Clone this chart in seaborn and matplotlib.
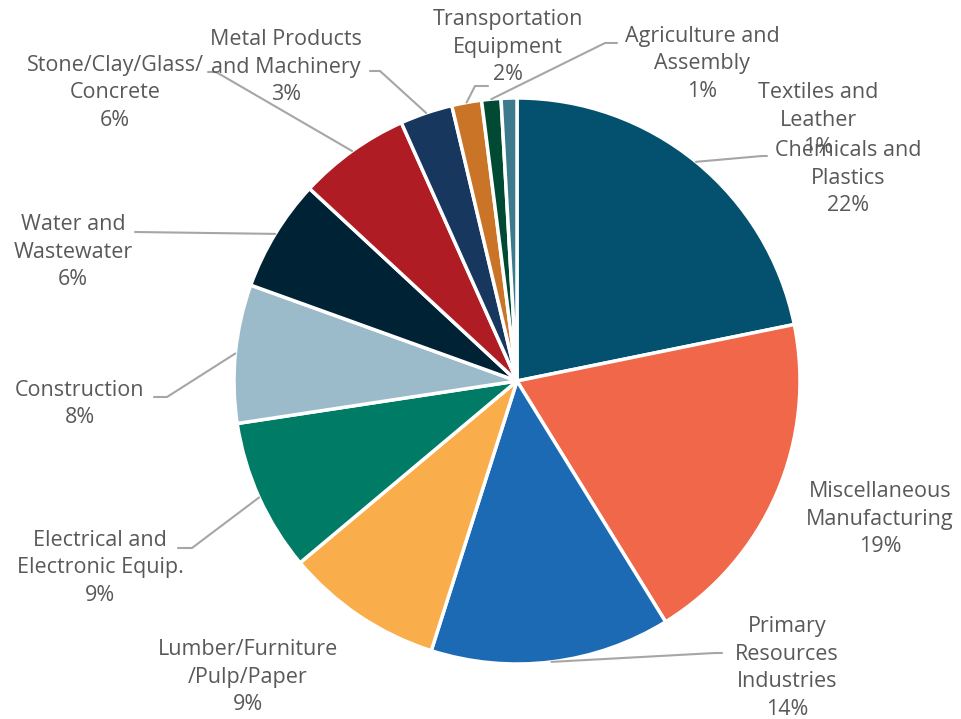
import matplotlib
matplotlib.use("Agg")
import matplotlib.pyplot as plt
import seaborn as sns
import numpy as np

sns.set_theme(style="white")
plt.rcParams['font.family'] = ['Open Sans', 'DejaVu Sans']

categories = ["Chemicals and\nPlastics", "Miscellaneous\nManufacturing",
              "Primary\nResources\nIndustries", "Lumber/Furniture\n/Pulp/Paper",
              "Electrical and\nElectronic Equip.", "Construction",
              "Water and\nWastewater", "Stone/Clay/Glass/\nConcrete",
              "Metal Products\nand Machinery", "Transportation\nEquipment",
              "Agriculture and\nAssembly", "Textiles and\nLeather"]
values = [21.8, 19.4, 13.7, 9.0, 8.7, 7.9, 6.4, 6.4, 3.0, 1.7, 1.1, 0.9]
colors = ["#03506F", "#F0674A", "#1D6AB4", "#F9AE4B", "#007B65", "#9BBBCA",
          "#002235", "#AF1C23", "#17375E", "#C97426", "#004A33", "#3E7A8E"]

W, H = 961, 719
# layout (pixel coords, origin top-left)
cx, cy, R = 517, 381, 283
label_pos = [(848, 178), (880, 519), (787, 668), (248, 677), (100, 568), (80, 404),
             (73, 252), (115, 93), (286, 67), (508, 47), (702, 64), (818, 120)]
leaders = [[(762, 156), (767, 156)], None, [(715, 653), (722, 653)], None,
           [(192, 548), (178, 548)], [(167, 397), (154, 397)],
           [(135, 232)], [(216, 72), (208, 72)], [(380, 71), (370, 71)],
           [(475, 86), (488, 86)], [(605, 43), (617, 43)], None]

fig = plt.figure(figsize=(W / 100, H / 100), dpi=100)
ax = fig.add_axes([0, 0, 1, 1])
wedges, _ = ax.pie(values, colors=colors, startangle=90, counterclock=False,
                   center=(cx, H - cy), radius=R,
                   wedgeprops=dict(edgecolor="white", linewidth=2.5))
ax.set_xlim(0, W)
ax.set_ylim(0, H)
ax.set_aspect("equal")
ax.axis("off")

total = sum(values)
for w, cat, v, (lx, ly), ld in zip(wedges, categories, values, label_pos, leaders):
    pct = round(v / total * 100)
    ax.text(lx, H - ly, f"{cat}\n{pct}%", ha="center", va="center",
            fontsize=15.5, color="#595959", linespacing=1.4, zorder=5)
    if ld is not None:
        mid = np.deg2rad((w.theta1 + w.theta2) / 2)
        x0 = cx + R * np.cos(mid)
        y0 = (H - cy) + R * np.sin(mid)
        xs = [x0] + [p[0] for p in ld]
        ys = [y0] + [H - p[1] for p in ld]
        ax.plot(xs, ys, color="#A6A6A6", lw=1.5, zorder=4)

fig.savefig("out.png", dpi=100)
